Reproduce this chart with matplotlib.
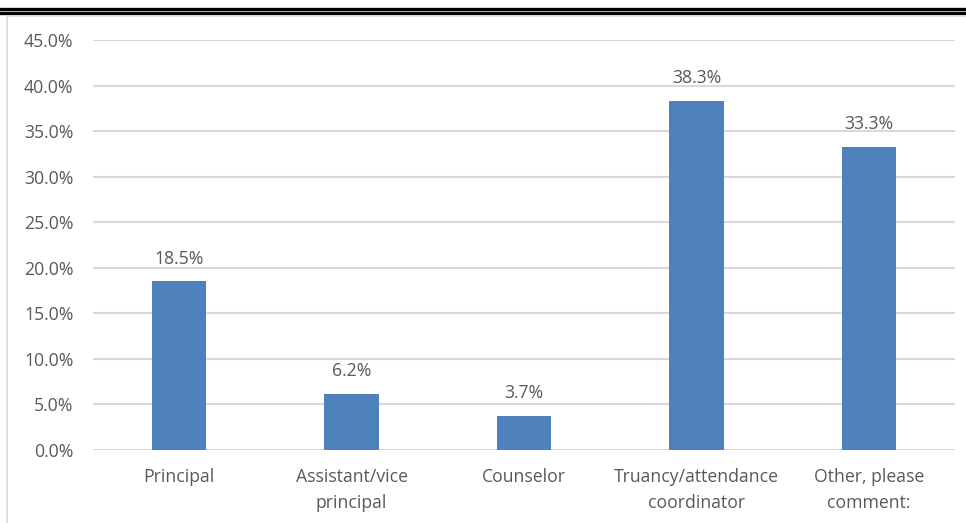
import matplotlib
matplotlib.use("Agg")
import matplotlib.pyplot as plt
from matplotlib.lines import Line2D
from matplotlib.ticker import FuncFormatter

categories = ["Principal", "Assistant/vice\nprincipal", "Counselor",
              "Truancy/attendance\ncoordinator", "Other, please\ncomment:"]
values = [18.5, 6.2, 3.7, 38.3, 33.3]
yticks = [0, 5, 10, 15, 20, 25, 30, 35, 40, 45]

plt.rcParams['font.family'] = ['Open Sans', 'DejaVu Sans']
text_color = "#595959"
fs = 12.7

fig = plt.figure(figsize=(9.66, 5.23), dpi=100)
ax = fig.add_axes([93/966, 1-450/523, (955-93)/966, (450-40)/523])

x = list(range(len(categories)))
bars = ax.bar(x, values, width=0.315, color="#4f81bd", zorder=3)
for xi, v in zip(x, values):
    ax.annotate(f"{v:.1f}%", (xi, v), xytext=(0, 10), textcoords="offset points",
                ha="center", va="bottom", fontsize=fs, color=text_color)

ax.set_xlim(-0.5, len(categories) - 0.5)
ax.set_ylim(0, 45)
ax.set_yticks(yticks)
ax.yaxis.set_major_formatter(FuncFormatter(lambda v, p: f"{v:.1f}%"))
ax.set_xticks(x)
ax.set_xticklabels(categories, linespacing=1.6)
ax.tick_params(axis="both", length=0, labelsize=fs, labelcolor=text_color)
ax.tick_params(axis="x", pad=13)
ax.tick_params(axis="y", pad=14)
ax.grid(axis="y", color="#d9d9d9", linewidth=1.5, zorder=0)
for s in ax.spines.values():
    s.set_visible(False)

# Frame decorations
fig.add_artist(Line2D([0, 1], [1-9/523, 1-9/523], color="black", linewidth=2.4, transform=fig.transFigure))
fig.add_artist(Line2D([0, 1], [1-13/523, 1-13/523], color="black", linewidth=2.4, transform=fig.transFigure))
fig.add_artist(Line2D([7/966, 1], [1-15.5/523, 1-15.5/523], color="#d9d9d9", linewidth=1.2, transform=fig.transFigure))
fig.add_artist(Line2D([7/966, 7/966], [0, 1-15.5/523], color="#d9d9d9", linewidth=1.2, transform=fig.transFigure))

fig.savefig("out.png", dpi=100)
